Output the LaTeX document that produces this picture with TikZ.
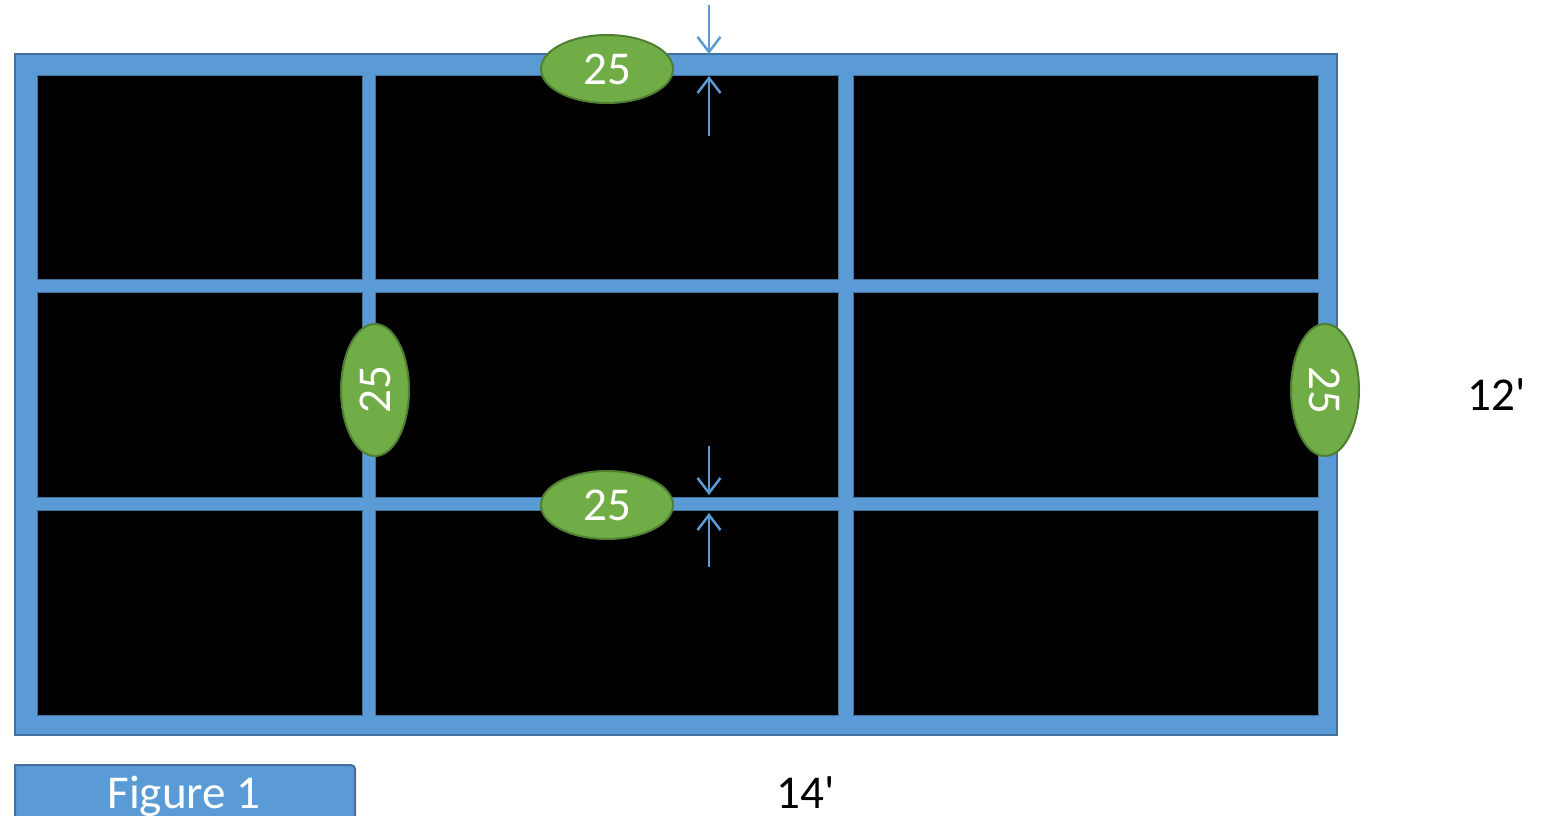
\documentclass[tikz,border=0pt]{standalone}
\usepackage{fontspec}
\setmainfont{Carlito}
\usetikzlibrary{shapes.geometric,arrows.meta}

\definecolor{frameblue}{RGB}{91,155,213}
\definecolor{frameedge}{RGB}{65,113,156}
\definecolor{tagfill}{RGB}{112,173,71}
\definecolor{tagedge}{RGB}{80,126,50}

\tikzset{
  panel/.style={fill=black, draw=frameedge, line width=0.1mm},
  tag/.style={ellipse, fill=tagfill, draw=tagedge, line width=0.2mm, text=white,
    minimum width=13.2mm, minimum height=6.8mm, inner sep=0pt,
    font=\fontsize{13.4}{15}\selectfont},
  gauge/.style={draw=frameblue, line width=0.25mm, -{Straight Barb[length=1.5mm,width=2.3mm]}},
  dimlabel/.style={inner sep=0pt, anchor=base, font=\fontsize{13.4}{15}\selectfont}
}

\begin{document}
\begin{tikzpicture}[x=0.1mm, y=-0.1mm]

    \useasboundingbox (0,0) rectangle (1545,816);
    \clip (0,0) rectangle (1545,816);

    % Frame
    \draw[fill=frameblue, draw=frameedge, line width=0.2mm] (15,54) rectangle (1337,735);

    % Panels
    \draw[panel] (37,75) rectangle (362,279);
    \draw[panel] (375,75) rectangle (838,279);
    \draw[panel] (853,75) rectangle (1318,279);
    \draw[panel] (37,292) rectangle (362,497);
    \draw[panel] (375,292) rectangle (838,497);
    \draw[panel] (853,292) rectangle (1318,497);
    \draw[panel] (37,510) rectangle (362,715);
    \draw[panel] (375,510) rectangle (838,715);
    \draw[panel] (853,510) rectangle (1318,715);

    % Tags
    \node[tag] (tagtop) at (607,69) {25};
    \node[tag] (tagmid) at (607,505) {25};
    \node[tag, rotate=90] (tagleft) at (375,390) {25};
    \node[tag, rotate=-90] (tagright) at (1325,390) {25};

    % Gauge arrows
    \coordinate (topabove) at (709,5);
    \coordinate (topedge) at (709,54);
    \coordinate (topbelow) at (709,136);
    \coordinate (topinner) at (709,76);
    \coordinate (midabove) at (709,446);
    \coordinate (midedge) at (709,495);
    \coordinate (midbelow) at (709,567);
    \coordinate (midinner) at (709,513);
    \draw[gauge] (topabove) -- (topedge);
    \draw[gauge] (topbelow) -- (topinner);
    \draw[gauge] (midabove) -- (midedge);
    \draw[gauge] (midbelow) -- (midinner);

    % Dimensions
    \node[dimlabel] (heightlabel) at (1497,410) {12\textquotesingle};
    \node[dimlabel] (widthlabel) at (806,808) {14\textquotesingle};

    % Caption box
    \draw[fill=frameblue, draw=frameedge, line width=0.2mm]
      (15,830) -- (15,765) -- (351,765) arc (270:360:4) -- (355,830);
    \node[dimlabel, text=white] (figlabel) at (184,808) {Figure 1};

\end{tikzpicture}
\end{document}
